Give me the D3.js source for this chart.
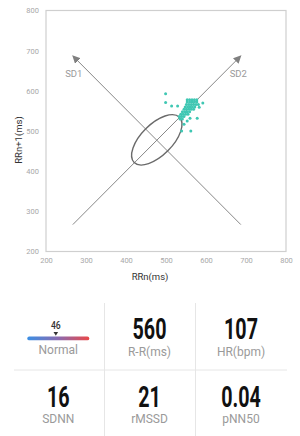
<!DOCTYPE html>
<html>
<head>
<meta charset="utf-8">
<script src="https://cdn.jsdelivr.net/npm/d3@7"></script>
<style>
  html, body { margin: 0; padding: 0; background: #fff; }
  svg { display: block; font-family: Roboto, "Noto Sans", sans-serif; }
</style>
</head>
<body>
<svg id="chart" width="300" height="436"></svg>
<script>
// ---- data ----
const axisTicks = [200, 300, 400, 500, 600, 700, 800];
const rrN  = [499, 499, 514, 529, 592, 583, 545, 539, 562, 560, 578,
              553, 559, 565, 571, 577,
              553, 559, 565, 571, 577,
              551, 557, 563, 569, 575, 581,
              548, 554, 560, 566, 572,
              545, 551, 557, 563, 569,
              541, 547, 553, 559,
              537, 543, 549, 555,
              533, 539, 545,
              535, 541, 553];
const rrN1 = [593, 571, 562, 562, 570, 559, 517, 500, 500, 532, 532,
              578, 578, 578, 578, 578,
              572, 572, 572, 572, 572,
              566, 566, 566, 566, 566, 566,
              560, 560, 560, 560, 560,
              554, 554, 554, 554, 554,
              548, 548, 548, 548,
              542, 542, 542, 542,
              536, 536, 536,
              530, 530, 525];
const ellipseCenter = [477, 478];
const sd1 = 39;   // semi-minor (perpendicular to identity line)
const sd2 = 80;   // semi-major (along identity line)
const axisLineLow = 267, axisLineHigh = 687;
const sdLabels = ["SD1", "SD2"];

const stressValue = 46;
const stressDomain = [0, 100];
const stressLabel = "Normal";
const metricValues = ["560", "107", "16", "21", "0.04"];
const metricLabels = ["R-R(ms)", "HR(bpm)", "SDNN", "rMSSD", "pNN50"];

// ---- chart ----
const svg = d3.select("#chart");
const x = d3.scaleLinear().domain([200, 800]).range([46, 286]);
const y = d3.scaleLinear().domain([200, 800]).range([251.5, 10.5]);

const defs = svg.append("defs");
defs.append("marker")
  .attr("id", "arrow").attr("viewBox", "0 0 10 10")
  .attr("refX", 9).attr("refY", 5)
  .attr("markerWidth", 8).attr("markerHeight", 8)
  .attr("markerUnits", "userSpaceOnUse")
  .attr("orient", "auto")
  .append("path").attr("d", "M0,0 L10,5 L0,10 z").attr("fill", "#808080");

// frame
svg.append("rect")
  .attr("x", x(200)).attr("y", y(800))
  .attr("width", x(800) - x(200)).attr("height", y(200) - y(800))
  .attr("fill", "none").attr("stroke", "#cfcfcf").attr("stroke-width", 1.2);

// axes
const xAxis = svg.append("g").attr("transform", `translate(0,${y(200)})`)
  .call(d3.axisBottom(x).tickValues(axisTicks).tickSize(0).tickPadding(6));
const yAxis = svg.append("g").attr("transform", `translate(${x(200)},0)`)
  .call(d3.axisLeft(y).tickValues(axisTicks).tickSize(0).tickPadding(7));
[xAxis, yAxis].forEach(g => {
  g.select(".domain").remove();
  g.selectAll("text").attr("fill", "#a8a8a8").style("font-size", "7.5px")
    .style("font-family", "Roboto, sans-serif");
});

svg.append("text").attr("x", 150).attr("y", 280).attr("text-anchor", "middle")
  .attr("fill", "#333").style("font-size", "9.5px").text("RRn(ms)");
svg.append("text").attr("transform", "translate(22,140) rotate(-90)")
  .attr("text-anchor", "middle").attr("fill", "#333").style("font-size", "9.5px")
  .text("RRn+1(ms)");

// SD axes (identity line and its perpendicular)
svg.append("line")
  .attr("x1", x(axisLineLow)).attr("y1", y(axisLineLow))
  .attr("x2", x(axisLineHigh)).attr("y2", y(axisLineHigh))
  .attr("stroke", "#888").attr("stroke-width", 1).attr("marker-end", "url(#arrow)");
svg.append("line")
  .attr("x1", x(axisLineHigh)).attr("y1", y(axisLineLow))
  .attr("x2", x(axisLineLow)).attr("y2", y(axisLineHigh))
  .attr("stroke", "#888").attr("stroke-width", 1).attr("marker-end", "url(#arrow)");

svg.append("text").attr("x", x(axisLineLow) + 1).attr("y", 76.5)
  .attr("text-anchor", "middle").attr("fill", "#9a9a9a").style("font-size", "9.5px")
  .text(sdLabels[0]);
svg.append("text").attr("x", x(axisLineHigh) - 2.5).attr("y", 76.5)
  .attr("text-anchor", "middle").attr("fill", "#9a9a9a").style("font-size", "9.5px")
  .text(sdLabels[1]);

// ellipse
const cx = x(ellipseCenter[0]), cy = y(ellipseCenter[1]);
svg.append("ellipse")
  .attr("cx", 0).attr("cy", 0)
  .attr("rx", x(200 + sd2) - x(200)).attr("ry", x(200 + sd1) - x(200))
  .attr("transform", `translate(${cx},${cy}) rotate(-45)`)
  .attr("fill", "none").attr("stroke", "#6a6a6a").attr("stroke-width", 1.4);

// points
svg.append("g").selectAll("circle")
  .data(rrN.map((v, i) => [v, rrN1[i]]))
  .join("circle")
  .attr("cx", d => x(d[0])).attr("cy", d => y(d[1]))
  .attr("r", 1.5).attr("fill", "#3fc7b3");

// ---- metrics panel ----
const colCenters = [58.3, 149.5, 241];
const divColor = "#e6e6e6";
svg.append("line").attr("x1", 14).attr("x2", 287).attr("y1", 370).attr("y2", 370)
  .attr("stroke", divColor).attr("stroke-width", 1);
[104.5, 195.5].forEach(xx => {
  svg.append("line").attr("x1", xx).attr("x2", xx).attr("y1", 303).attr("y2", 436)
    .attr("stroke", divColor).attr("stroke-width", 1);
});

// stress gradient bar
const grad = defs.append("linearGradient").attr("id", "stressGrad")
  .attr("x1", "0%").attr("x2", "100%").attr("y1", "0%").attr("y2", "0%");
grad.append("stop").attr("offset", "0%").attr("stop-color", "#3b8fe4");
grad.append("stop").attr("offset", "50%").attr("stop-color", "#8a6bb0");
grad.append("stop").attr("offset", "100%").attr("stop-color", "#ea4848");
const sx = d3.scaleLinear().domain(stressDomain).range([27.3, 89.3]);
svg.append("rect").attr("x", sx(stressDomain[0])).attr("y", 336.5)
  .attr("width", sx(stressDomain[1]) - sx(stressDomain[0])).attr("height", 3.8)
  .attr("rx", 1.9).attr("fill", "url(#stressGrad)");
const mx = sx(stressValue);
svg.append("path").attr("d", `M${mx - 2.3},332 L${mx + 2.3},332 L${mx},335.8 Z`)
  .attr("fill", "#333");
svg.append("text").attr("transform", `translate(${mx},329) scale(0.75,1)`)
  .attr("text-anchor", "middle").attr("fill", "#333")
  .style("font-size", "11.5px").style("font-weight", 500).text(stressValue);
svg.append("text").attr("x", colCenters[0]).attr("y", 353.5).attr("text-anchor", "middle")
  .attr("fill", "#9a9a9a").style("font-size", "12px").text(stressLabel);

// metric cells
const cells = [
  {col: 1, row: 0}, {col: 2, row: 0},
  {col: 0, row: 1}, {col: 1, row: 1}, {col: 2, row: 1}
];
const rowNumBase = [338.5, 406.8];
const rowLblBase = [355.5, 423.3];
cells.forEach((c, i) => {
  const cxx = colCenters[c.col];
  svg.append("text")
    .attr("transform", `translate(${cxx},${rowNumBase[c.row]}) scale(0.68,1)`)
    .attr("text-anchor", "middle").attr("fill", "#111")
    .style("font-size", "29px").style("font-weight", 700)
    .text(metricValues[i]);
  svg.append("text").attr("x", cxx).attr("y", rowLblBase[c.row])
    .attr("text-anchor", "middle").attr("fill", "#9a9a9a")
    .style("font-size", "12px").text(metricLabels[i]);
});
</script>
</body>
</html>
